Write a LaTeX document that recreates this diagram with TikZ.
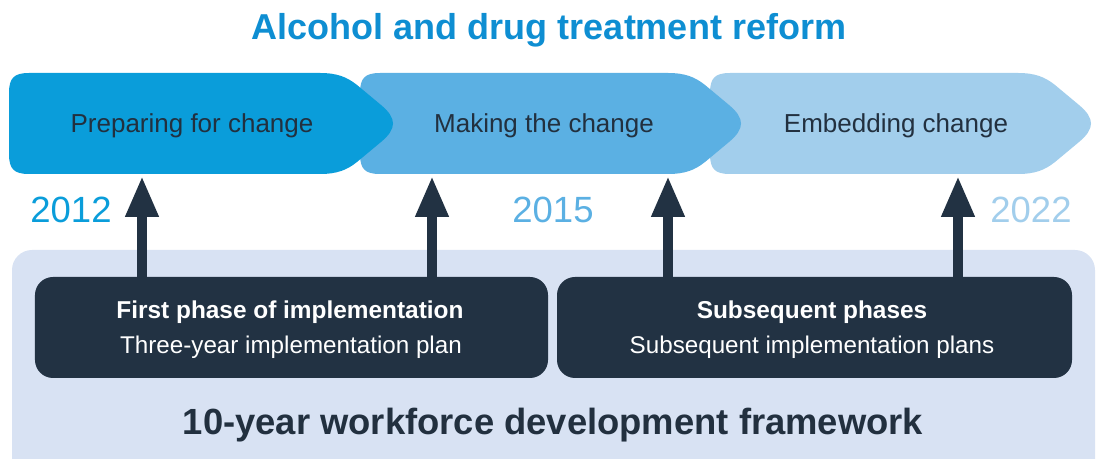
\documentclass[tikz,border=0pt]{standalone}
\usepackage{fontspec}
\setmainfont{Liberation Sans}
\usetikzlibrary{arrows.meta}
\definecolor{cA}{HTML}{0A9DDA}
\definecolor{cB}{HTML}{5BB0E3}
\definecolor{cC}{HTML}{A2CEEC}
\definecolor{titleblue}{HTML}{0E8ED2}
\definecolor{bgbox}{HTML}{D8E2F3}
\definecolor{darkbox}{HTML}{223243}
\definecolor{darktext}{HTML}{22303F}
\newcommand{\chevshape}[3]{%
 \fill[#3] ({#1+20},73) -- ({#2-75},73) .. controls ({#2-58},73) and ({#2-48},77) .. ({#2-38},85) -- ({#2-14},105) .. controls ({#2+2},118.3) and ({#2+2},128.7) .. ({#2-14},142) -- ({#2-38},162) .. controls ({#2-48},170) and ({#2-58},174) .. ({#2-75},174) -- ({#1+20},174) .. controls ({#1+5},174) and (#1,169) .. (#1,154) -- (#1,93) .. controls (#1,78) and ({#1+5},73) .. ({#1+20},73) -- cycle;}
\tikzset{
  title/.style={anchor=base, text=titleblue, font=\bfseries\fontsize{36bp}{40bp}\selectfont, inner sep=0pt},
  chevtext/.style={anchor=base, text=darktext, font=\fontsize{26bp}{30bp}\selectfont, inner sep=0pt},
  year/.style={anchor=base, font=\fontsize{36.5bp}{40bp}\selectfont, inner sep=0pt},
  phasebox/.style={fill=darkbox, rounded corners=18bp, minimum height=101bp, inner sep=0pt},
  phasehead/.style={anchor=base, text=white, font=\bfseries\fontsize{24.4bp}{28bp}\selectfont, inner sep=0pt},
  phasesub/.style={anchor=base, text=white, font=\fontsize{24.2bp}{28bp}\selectfont, inner sep=0pt},
  frametext/.style={anchor=base, text=darktext, font=\bfseries\fontsize{36.4bp}{40bp}\selectfont, inner sep=0pt},
  uparrow/.style={draw=darkbox, line width=10bp, -{Triangle[width=31bp,length=41bp]}}
}
\begin{document}
\begin{tikzpicture}[x=1bp,y=-1bp]
\useasboundingbox (0,0) rectangle (1098,459);
% title
\node[title] (ttl) at (549,40) {Alcohol and drug treatment reform};
% chevrons
\chevshape{710}{1093}{cC}
\chevshape{360}{743}{cB}
\chevshape{9}{395}{cA}
\node[chevtext] (c1) at (192,133) {Preparing for change};
\node[chevtext] (c2) at (544,133) {Making the change};
\node[chevtext] (c3) at (896,133) {Embedding change};
% years
\node[year, text=cA] (y1) at (71,223) {2012};
\node[year, text=cB] (y2) at (553,223) {2015};
\node[year, text=cC] (y3) at (1031,223) {2022};
% framework background
\fill[bgbox, rounded corners=20bp] (12,250) rectangle (1095,480);
% phase boxes
\node[phasebox, minimum width=513bp] (p1) at (291.5,327.5) {};
\node[phasebox, minimum width=515bp] (p2) at (814.5,327.5) {};
\node[phasehead] (h1) at (290,319) {First phase of implementation};
\node[phasesub] (s1) at (291,354) {Three-year implementation plan};
\node[phasehead] (h2) at (812,319) {Subsequent phases};
\node[phasesub] (s2) at (812,354) {Subsequent implementation plans};
% framework label
\node[frametext] (fw) at (553,435) {10-year workforce development framework};
% arrows
\coordinate (t1) at (142,176);
\coordinate (t2) at (432,176);
\coordinate (t3) at (668,176);
\coordinate (t4) at (958,176);
\draw[uparrow] (p1.north -| t1) -- (t1);
\draw[uparrow] (p1.north -| t2) -- (t2);
\draw[uparrow] (p2.north -| t3) -- (t3);
\draw[uparrow] (p2.north -| t4) -- (t4);
\end{tikzpicture}
\end{document}
